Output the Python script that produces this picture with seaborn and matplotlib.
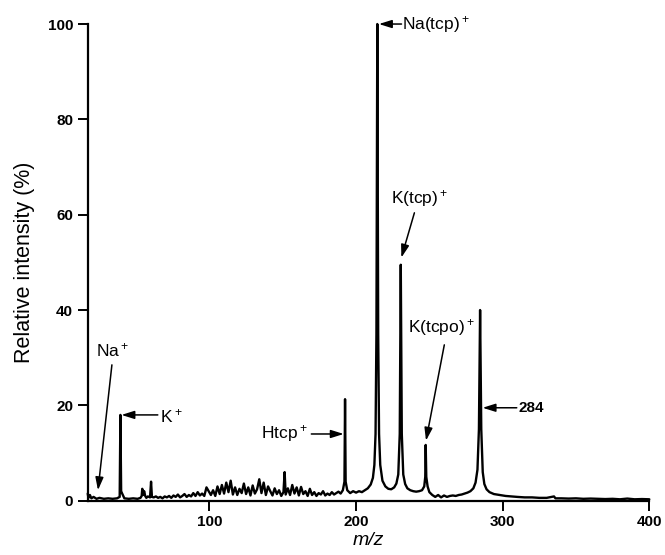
import matplotlib
matplotlib.use("Agg")
import matplotlib.pyplot as plt
import seaborn as sns
import pandas as pd

# spectrum (m/z, relative intensity %)
mz = [17, 17.5, 18.5, 19.5, 21, 23, 25, 28, 31, 34,
      37, 38.8, 39.3, 39.8, 40.5, 42, 45, 48, 51, 53,
      53.8, 54.2, 54.8, 55.5, 56.2, 57, 58, 59.5, 60.2, 60.8,
      62, 63.5, 65, 66.5, 68, 69.5, 71, 72.5, 74, 75.5,
      77, 78.5, 80, 81.5, 83, 84.5, 86, 87.5, 89, 90.5,
      92, 93.5, 95, 96.5, 98, 99.5, 101, 102.5, 104, 105.5,
      107, 108.5, 110, 111.5, 113, 114.5, 116, 117.5, 119, 120.5,
      122, 123.5, 125, 126.5, 128, 129.5, 131, 132.5, 134, 135.5,
      137, 138.5, 140, 141.5, 143, 144.5, 146, 147.5, 149, 150.5,
      151.3, 152, 153.5, 155, 156.5, 158, 159.5, 161, 162.5, 164,
      165.5, 167, 168.5, 170, 171.5, 173, 174.5, 176, 177.5, 179,
      180.5, 182, 183.5, 185, 186.5, 188, 189.5, 191, 192.1, 192.5,
      192.9, 194, 196, 198, 200, 202, 204, 206, 208, 210,
      211.5, 212.5, 213.3, 213.9, 214.5, 215.1, 215.7, 216.5, 218, 220,
      222, 224, 226, 227.5, 228.8, 229.8, 230.5, 231.2, 232.2, 233.5,
      235, 237, 239, 241, 243, 245, 246.5, 247.2, 247.5, 247.9,
      248.8, 250, 252, 254, 256, 258, 260, 262, 264, 266,
      268, 270, 272, 274, 276, 278, 280, 281.5, 282.8, 283.8,
      284.6, 285.4, 286.4, 287.5, 289, 291, 294, 298, 302, 306,
      310, 315, 320, 325, 330, 335, 336, 340, 345, 350,
      355, 360, 365, 370, 375, 380, 385, 390, 395, 400]
rel_int = [1.5, 0.6, 1.2, 0.5, 0.8, 0.4, 0.6, 0.4, 0.5, 0.4,
           0.5, 0.8, 18.0, 2.0, 1.5, 0.5, 0.4, 0.5, 0.4, 0.6,
           1.0, 2.5, 1.2, 2.0, 1.0, 0.6, 0.9, 0.7, 4.0, 0.8,
           0.7, 0.9, 0.6, 0.8, 0.5, 0.9, 0.7, 1.0, 0.6, 1.1,
           0.8, 1.3, 0.7, 1.0, 1.4, 0.8, 1.2, 0.9, 1.6, 1.0,
           1.8, 1.1, 1.5, 1.0, 2.8, 2.0, 1.2, 2.2, 1.0, 3.0,
           1.4, 3.3, 1.5, 3.8, 1.8, 4.2, 1.3, 2.8, 1.2, 2.5,
           1.6, 3.6, 1.4, 2.8, 1.1, 3.2, 1.5, 2.4, 4.5, 1.6,
           3.8, 1.2, 3.0, 2.0, 1.1, 2.6, 1.4, 2.2, 1.0, 1.8,
           6.0, 1.3, 2.6, 1.2, 3.3, 1.5, 2.8, 1.1, 2.9, 1.4,
           2.0, 1.0, 2.5, 1.2, 1.8, 1.0, 1.6, 1.3, 2.0, 1.1,
           1.5, 1.2, 1.8, 1.3, 1.6, 1.9, 1.5, 2.2, 4.0, 21.3,
           4.0, 2.2, 1.6, 2.0, 1.7, 2.0, 1.8, 2.2, 2.6, 3.4,
           4.8, 7.5, 14.0, 35.0, 100.0, 35.0, 14.0, 7.5, 4.2, 3.0,
           2.5, 2.4, 2.8, 3.6, 5.5, 14.0, 49.5, 14.0, 5.5, 3.5,
           2.6, 2.2, 2.0, 1.9, 2.0, 2.2, 3.0, 5.0, 11.7, 5.0,
           3.0, 1.8, 1.2, 0.8, 1.2, 0.7, 1.1, 0.8, 1.0, 1.1,
           1.0, 1.2, 1.3, 1.5, 1.7, 2.0, 2.6, 3.8, 6.5, 15.0,
           40.0, 15.0, 6.0, 3.5, 2.4, 1.8, 1.4, 1.2, 1.0, 0.9,
           0.8, 0.7, 0.7, 0.6, 0.6, 0.9, 0.5, 0.5, 0.45, 0.5,
           0.4, 0.45, 0.4, 0.35, 0.4, 0.3, 0.45, 0.3, 0.35, 0.3]

x_ticks = [100, 200, 300, 400]
y_ticks = [0, 20, 40, 60, 80, 100]

# peak labels: text, text position, arrow tail, arrow head
labels = [r"Na$^+$", r"K$^+$", r"Htcp$^+$", r"Na(tcp)$^+$", r"K(tcp)$^+$", r"K(tcpo)$^+$", "284"]
label_xy = [(34.3, 31.5), (66.4, 17.8), (167.0, 14.2), (231.5, 100.0), (243.7, 63.5), (258.0, 36.3), (310.5, 19.5)]
arrow_from = [(33.5, 28.5), (64.8, 18.0), (169.5, 14.0), (231.0, 100.0), (239.8, 60.4), (260.2, 32.7), (309.6, 19.5)]
arrow_to = [(24.0, 2.2), (40.0, 18.0), (191.6, 14.0), (215.6, 100.0), (230.9, 51.0), (247.7, 12.6), (286.3, 19.5)]

df = pd.DataFrame({"mz": mz, "intensity": rel_int})

sns.set_style("ticks")
plt.rcParams["font.family"] = ["Liberation Sans", "DejaVu Sans"]
plt.rcParams["mathtext.default"] = "regular"
plt.rcParams["text.color"] = "black"
plt.rcParams["axes.labelcolor"] = "black"

fig = plt.figure(figsize=(6.65, 5.55), dpi=100)
ax = fig.add_axes([0.1319, 0.0978, 0.8445, 0.8589])

sns.lineplot(data=df, x="mz", y="intensity", ax=ax, color="black", lw=1.7,
             estimator=None, sort=False, clip_on=False)

ax.set_xlim(17, 400)
ax.set_ylim(0, 100)
ax.set_xticks(x_ticks)
ax.set_yticks(y_ticks)
sns.despine(ax=ax)
for s in ["left", "bottom"]:
    ax.spines[s].set_linewidth(1.6)
    ax.spines[s].set_color("black")
ax.tick_params(axis="both", direction="out", length=7, width=1.4, colors="black",
               labelsize=11)
for lab in ax.get_xticklabels() + ax.get_yticklabels():
    lab.set_fontweight("bold")

ax.set_xlabel("m/z", fontsize=14, style="italic", labelpad=2)
ax.set_ylabel("Relative intensity (%)", fontsize=15.5, labelpad=9)

# annotations
aligns = ["center", "left", "right", "left", "center", "center", "left"]
for txt, pos, ha, a0, a1 in zip(labels, label_xy, aligns, arrow_from, arrow_to):
    is_num = txt == "284"
    ax.text(pos[0], pos[1], txt, ha=ha, va="center", color="black",
            fontsize=11 if is_num else 12.5,
            fontweight="bold" if is_num else "normal")
    ax.annotate("", xy=a1, xytext=a0,
                arrowprops=dict(arrowstyle="-|>,head_length=0.7,head_width=0.22",
                                color="black", lw=1.1, shrinkA=0, shrinkB=0,
                                mutation_scale=11),
                annotation_clip=False)

fig.savefig("out.png", dpi=100)
